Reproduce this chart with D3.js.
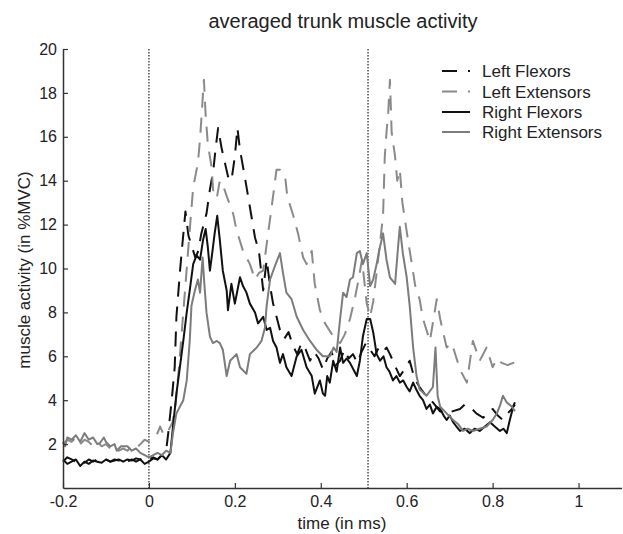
<!DOCTYPE html>
<html><head><meta charset="utf-8">
<script src="https://cdn.jsdelivr.net/npm/d3@7"></script>
<style>body{margin:0;background:#fff}svg{display:block}</style>
</head><body><svg id="c" width="623" height="534"></svg>
<script>
const titleText = "averaged trunk muscle activity";
const xLabel = "time (in ms)";
const yLabel = "muscle activity (in %MVC)";
const xTicks = [-0.2, 0, 0.2, 0.4, 0.6, 0.8, 1];
const yTicks = [2, 4, 6, 8, 10, 12, 14, 16, 18, 20];
const markerTimes = [0, 0.51];
const seriesNames = ["Left Flexors", "Left Extensors", "Right Flexors", "Right Extensors"];

const leftFlexorsT = [-0.2,-0.19,-0.18,-0.17,-0.16,-0.15,-0.14,-0.13,-0.12,-0.11,-0.1,-0.09,-0.08,-0.07,-0.06,-0.05,-0.04,-0.03,-0.02,-0.01,0,0.01,0.02,0.03,0.04,0.045,0.053,0.06,0.064,0.072,0.076,0.085,0.092,0.1,0.108,0.115,0.122,0.134,0.142,0.15,0.156,0.161,0.169,0.177,0.184,0.192,0.2,0.206,0.212,0.223,0.235,0.247,0.256,0.266,0.274,0.282,0.289,0.297,0.305,0.315,0.325,0.335,0.345,0.355,0.365,0.375,0.385,0.395,0.405,0.415,0.425,0.435,0.445,0.455,0.465,0.475,0.485,0.495,0.505,0.515,0.525,0.535,0.545,0.553,0.561,0.572,0.584,0.595,0.607,0.618,0.63,0.645,0.661,0.677,0.693,0.708,0.724,0.735,0.747,0.762,0.778,0.79,0.8,0.812,0.824,0.835,0.845,0.852];
const leftFlexorsV = [1.2,1.4,1.3,1.2,1.3,1.15,1.3,1.2,1.3,1.25,1.3,1.2,1.3,1.25,1.35,1.2,1.3,1.2,1.3,1.4,1.3,1.4,1.3,1.5,1.7,2.5,4.0,5.5,7.8,9.8,10.7,12.6,11.5,11.0,10.5,10.8,11.6,12.5,13.6,14.5,15.6,16.4,15.5,14.8,14.2,14.0,15.1,16.4,15.4,14.2,12.8,11.4,10.8,9.0,10.4,9.2,8.4,7.8,7.2,6.8,7.1,6.5,6.1,6.6,6.3,5.8,6.2,5.9,5.4,5.9,6.2,5.6,5.8,6.3,5.9,6.1,5.7,6.2,6.6,6.3,6.0,6.4,6.2,6.4,6.1,5.6,5.1,5.4,5.8,5.0,4.6,4.2,3.9,3.5,3.4,3.5,3.6,3.8,3.7,3.4,3.2,3.4,3.6,3.3,3.1,3.4,3.6,3.9];

const leftExtensorsT = [-0.2,-0.19,-0.18,-0.17,-0.16,-0.15,-0.14,-0.13,-0.12,-0.11,-0.1,-0.09,-0.08,-0.07,-0.06,-0.05,-0.04,-0.03,-0.02,-0.01,0,0.01,0.02,0.026,0.035,0.045,0.055,0.062,0.07,0.078,0.086,0.094,0.103,0.114,0.119,0.123,0.128,0.132,0.137,0.146,0.15,0.158,0.164,0.169,0.181,0.196,0.204,0.219,0.235,0.247,0.256,0.266,0.274,0.285,0.297,0.305,0.312,0.317,0.322,0.336,0.347,0.359,0.367,0.379,0.386,0.398,0.41,0.429,0.445,0.456,0.468,0.48,0.488,0.496,0.507,0.515,0.522,0.53,0.538,0.545,0.549,0.553,0.557,0.561,0.565,0.573,0.578,0.584,0.59,0.603,0.612,0.62,0.63,0.638,0.654,0.67,0.678,0.693,0.705,0.724,0.74,0.754,0.77,0.786,0.8,0.81,0.821,0.835,0.848,0.852];
const leftExtensorsV = [2.0,2.2,2.1,2.3,2.0,2.2,2.1,1.9,2.1,1.9,2.0,1.8,1.9,1.7,1.8,1.7,1.9,1.8,2.0,2.2,2.1,2.3,2.5,2.8,2.4,2.6,3.0,3.8,5.5,7.5,9.5,11.5,13.7,14.8,15.9,17.1,18.6,17.0,15.7,14.6,13.4,13.2,13.9,14.0,13.3,12.5,11.75,10.8,10.2,9.5,9.8,9.9,11.1,12.7,14.5,14.5,14.3,14.2,13.3,12.4,11.6,10.5,10.2,10.8,9.3,8.1,7.5,6.9,6.6,7.0,7.7,8.7,9.5,10.4,8.4,7.8,8.5,9.8,11.2,12.4,15.1,16.2,17.1,18.6,16.2,15.1,14.0,14.5,13.0,11.3,10.2,9.2,8.6,7.7,6.7,8.6,7.7,6.4,6.6,5.4,4.8,6.7,5.8,6.4,5.5,5.9,5.7,5.6,5.7,5.5];

const rightFlexorsT = [-0.2,-0.19,-0.18,-0.17,-0.16,-0.15,-0.14,-0.13,-0.12,-0.11,-0.1,-0.09,-0.08,-0.07,-0.06,-0.05,-0.04,-0.03,-0.02,-0.01,0,0.01,0.02,0.03,0.04,0.05,0.056,0.064,0.072,0.08,0.088,0.095,0.103,0.111,0.119,0.126,0.132,0.137,0.142,0.148,0.153,0.159,0.165,0.172,0.181,0.184,0.192,0.2,0.212,0.219,0.227,0.235,0.247,0.254,0.266,0.274,0.282,0.289,0.297,0.305,0.312,0.32,0.332,0.344,0.355,0.367,0.379,0.386,0.398,0.405,0.41,0.415,0.421,0.429,0.437,0.445,0.452,0.46,0.468,0.476,0.484,0.491,0.498,0.507,0.515,0.522,0.53,0.538,0.546,0.553,0.56,0.568,0.576,0.584,0.592,0.6,0.607,0.615,0.622,0.63,0.638,0.646,0.654,0.661,0.67,0.678,0.686,0.693,0.7,0.708,0.716,0.724,0.735,0.747,0.758,0.77,0.782,0.794,0.805,0.817,0.825,0.833,0.84,0.848,0.852];
const rightFlexorsV = [1.3,1.1,1.2,1.3,1.0,1.2,1.1,1.25,1.2,1.15,1.3,1.2,1.25,1.3,1.2,1.3,1.25,1.35,1.3,1.1,1.2,1.35,1.3,1.5,1.3,1.6,2.8,4.3,5.5,6.7,8.0,9.0,10.2,10.6,10.4,11.3,11.8,11.0,9.9,10.8,11.6,12.4,11.3,9.9,9.0,8.1,9.3,8.4,9.6,9.2,8.9,8.4,8.0,7.5,7.8,7.2,7.3,6.7,6.4,5.7,6.1,5.5,5.1,6.0,6.3,5.5,5.1,4.3,4.9,4.3,4.2,5.1,4.8,5.8,5.3,6.4,5.7,5.9,5.7,5.4,5.1,5.8,6.9,7.7,7.7,7.1,6.1,5.8,6.0,5.5,5.3,4.9,5.1,4.8,4.9,4.6,4.4,4.8,4.5,4.2,4.0,3.6,3.8,3.4,3.7,3.6,3.3,3.1,3.3,3.0,2.8,2.6,2.7,2.5,2.7,2.6,2.8,3.0,2.8,2.6,2.7,2.5,3.1,3.7,3.8];

const rightExtensorsT = [-0.2,-0.195,-0.19,-0.18,-0.17,-0.16,-0.155,-0.15,-0.14,-0.13,-0.12,-0.114,-0.105,-0.1,-0.09,-0.08,-0.075,-0.065,-0.05,-0.04,-0.03,-0.02,-0.01,0,0.01,0.02,0.03,0.04,0.05,0.056,0.064,0.08,0.088,0.095,0.099,0.107,0.114,0.119,0.125,0.129,0.134,0.142,0.149,0.158,0.165,0.172,0.181,0.189,0.204,0.212,0.227,0.235,0.251,0.262,0.27,0.274,0.282,0.293,0.305,0.312,0.32,0.332,0.344,0.359,0.375,0.39,0.405,0.421,0.43,0.437,0.445,0.452,0.46,0.468,0.475,0.484,0.491,0.498,0.507,0.515,0.522,0.53,0.538,0.545,0.553,0.561,0.573,0.58,0.584,0.591,0.6,0.607,0.615,0.623,0.63,0.646,0.661,0.667,0.672,0.678,0.693,0.708,0.72,0.731,0.742,0.754,0.77,0.786,0.8,0.81,0.818,0.824,0.833,0.845,0.852];
const rightExtensorsV = [2.1,1.9,2.3,2.2,2.4,2.1,2.3,2.5,2.2,2.3,2.0,2.05,2.3,2.1,1.9,2.0,1.7,1.9,1.9,1.7,1.8,1.6,1.5,1.4,1.5,1.6,1.5,1.7,1.6,2.5,3.4,4.0,4.9,6.7,8.3,9.0,9.5,8.9,10.5,9.3,8.0,6.9,6.6,6.7,6.6,6.3,5.1,5.8,6.1,5.5,5.2,6.1,6.4,6.7,7.3,8.3,9.5,10.1,10.7,9.8,8.9,8.6,7.8,7.2,6.7,6.3,6.0,6.0,6.4,6.2,7.7,8.9,8.7,9.5,9.6,10.7,10.8,10.2,10.7,9.2,9.5,10.2,11.0,11.6,10.4,9.6,9.3,11.0,11.9,10.7,9.6,8.3,6.4,5.1,4.5,4.2,4.6,6.4,4.2,3.7,3.4,3.1,2.9,2.6,2.7,2.6,2.7,2.8,3.1,3.4,3.8,4.2,3.9,3.7,3.5];

const seriesTimes = [leftFlexorsT, leftExtensorsT, rightFlexorsT, rightExtensorsT];
const seriesValues = [leftFlexorsV, leftExtensorsV, rightFlexorsV, rightExtensorsV];
const seriesColors = ["#111111", "#8a8a8a", "#111111", "#7c7c7c"];
const seriesDash = ["15,10", "15,10", null, null];

const FONT = "'Liberation Sans', Arial, Helvetica, sans-serif";
const svg = d3.select("#c");
const x = d3.scaleLinear().domain([-0.2, 1.1]).range([63, 621.5]);
const y = d3.scaleLinear().domain([0, 20]).range([488, 49]);

// title
svg.append("text").attr("x", 343).attr("y", 28).attr("text-anchor", "middle")
  .attr("font-family", FONT).attr("font-size", 20).attr("fill", "#222").text(titleText);

// vertical dotted markers
svg.selectAll("line.marker").data(markerTimes).join("line").attr("class", "marker")
  .attr("x1", d => x(d)).attr("x2", d => x(d)).attr("y1", y(20)).attr("y2", y(0))
  .attr("stroke", "#222").attr("stroke-width", 1.2).attr("stroke-dasharray", "1.5,1.5");

// series
const line = d3.line().x(d => x(d[0])).y(d => y(d[1]));
seriesNames.forEach((name, i) => {
  const pts = seriesTimes[i].map((t, j) => [t, seriesValues[i][j]]);
  const p = svg.append("path").datum(pts).attr("d", line).attr("fill", "none")
    .attr("stroke", seriesColors[i]).attr("stroke-width", 2).attr("stroke-linejoin", "round");
  if (seriesDash[i]) p.attr("stroke-dasharray", seriesDash[i]);
});

// axes
const xAxis = d3.axisBottom(x).tickValues(xTicks).tickSizeInner(-5).tickSizeOuter(0).tickPadding(8)
  .tickFormat(d => String(d));
const gx = svg.append("g").attr("transform", `translate(0,${y(0)})`).call(xAxis);
const yAxis = d3.axisLeft(y).tickValues(yTicks).tickSizeInner(-5).tickSizeOuter(0).tickPadding(6)
  .tickFormat(d => String(d));
const gy = svg.append("g").attr("transform", `translate(${x(-0.2)},0)`).call(yAxis);
[gx, gy].forEach(g => {
  g.select(".domain").attr("stroke", "#333").attr("stroke-width", 1.5);
  g.selectAll(".tick line").attr("stroke", "#333").attr("stroke-width", 1.2);
  g.selectAll(".tick text").attr("font-family", FONT).attr("font-size", 16).attr("fill", "#222");
});

// axis labels
svg.append("text").attr("x", 342).attr("y", 529).attr("text-anchor", "middle")
  .attr("font-family", FONT).attr("font-size", 17).attr("fill", "#222").text(xLabel);
svg.append("text").attr("transform", "translate(30,270) rotate(-90)").attr("text-anchor", "middle")
  .attr("font-family", FONT).attr("font-size", 17).attr("fill", "#222").text(yLabel);

// legend
const legendY = [71, 91.5, 112, 132];
const lg = svg.append("g");
seriesNames.forEach((name, i) => {
  const l = lg.append("line").attr("x1", 442).attr("x2", 470).attr("y1", legendY[i]).attr("y2", legendY[i])
    .attr("stroke", seriesColors[i]).attr("stroke-width", 2);
  if (seriesDash[i]) l.attr("stroke-dasharray", "15,11");
  lg.append("text").attr("x", 482).attr("y", legendY[i]).attr("dy", "0.36em")
    .attr("font-family", FONT).attr("font-size", 17).attr("fill", "#222").text(name);
});
</script>
</body></html>
